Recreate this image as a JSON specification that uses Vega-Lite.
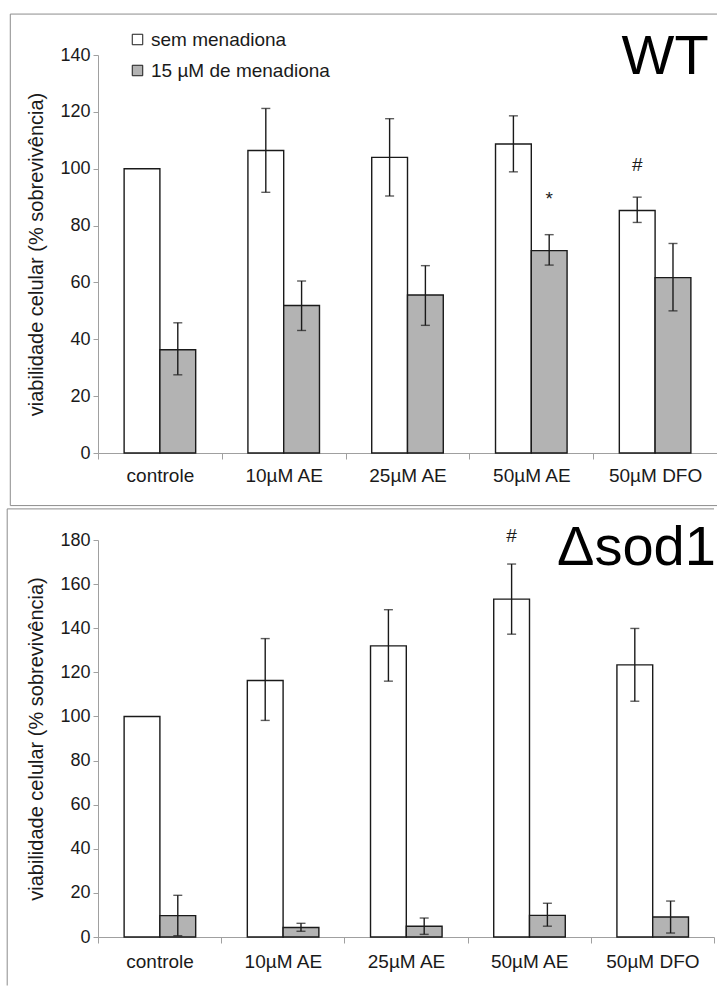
{
  "$schema": "https://vega.github.io/schema/vega-lite/v6.json",
  "padding": {"left": 6, "top": 13, "right": 0, "bottom": 0},
  "spacing": 1,
  "config": {"view": {"stroke": null}, "font": "Liberation Sans"},
  "datasets": {
    "wt": [
      {"cond": "controle", "serie": "sem menadiona", "v": 100, "lo": null, "hi": null},
      {"cond": "controle", "serie": "15 µM de menadiona", "v": 36.3, "lo": 27.5, "hi": 45.8},
      {"cond": "10µM AE", "serie": "sem menadiona", "v": 106.4, "lo": 91.7, "hi": 121.2},
      {"cond": "10µM AE", "serie": "15 µM de menadiona", "v": 51.9, "lo": 43.1, "hi": 60.5},
      {"cond": "25µM AE", "serie": "sem menadiona", "v": 104.0, "lo": 90.4, "hi": 117.6},
      {"cond": "25µM AE", "serie": "15 µM de menadiona", "v": 55.6, "lo": 44.9, "hi": 65.9},
      {"cond": "50µM AE", "serie": "sem menadiona", "v": 108.7, "lo": 98.9, "hi": 118.6},
      {"cond": "50µM AE", "serie": "15 µM de menadiona", "v": 71.2, "lo": 66.1, "hi": 76.8},
      {"cond": "50µM DFO", "serie": "sem menadiona", "v": 85.3, "lo": 81.1, "hi": 90.0},
      {"cond": "50µM DFO", "serie": "15 µM de menadiona", "v": 61.7, "lo": 50.0, "hi": 73.7}
    ],
    "wt_notes": [
      {"cond": "50µM AE", "serie": "15 µM de menadiona", "at": 89.5, "label": "*"},
      {"cond": "50µM DFO", "serie": "sem menadiona", "at": 101.2, "label": "#"}
    ],
    "sod": [
      {"cond": "controle", "serie": "sem menadiona", "v": 100, "lo": null, "hi": null},
      {"cond": "controle", "serie": "15 µM de menadiona", "v": 9.7, "lo": 0.6, "hi": 18.9},
      {"cond": "10µM AE", "serie": "sem menadiona", "v": 116.3, "lo": 98.2, "hi": 135.3},
      {"cond": "10µM AE", "serie": "15 µM de menadiona", "v": 4.3, "lo": 2.6, "hi": 6.2},
      {"cond": "25µM AE", "serie": "sem menadiona", "v": 132.0, "lo": 116.0, "hi": 148.4},
      {"cond": "25µM AE", "serie": "15 µM de menadiona", "v": 4.9, "lo": 1.2, "hi": 8.6},
      {"cond": "50µM AE", "serie": "sem menadiona", "v": 153.2, "lo": 137.3, "hi": 169.1},
      {"cond": "50µM AE", "serie": "15 µM de menadiona", "v": 9.8, "lo": 4.9, "hi": 15.3},
      {"cond": "50µM DFO", "serie": "sem menadiona", "v": 123.4, "lo": 106.9, "hi": 139.9},
      {"cond": "50µM DFO", "serie": "15 µM de menadiona", "v": 9.1, "lo": 1.8, "hi": 16.3}
    ],
    "sod_notes": [
      {"cond": "50µM AE", "serie": "sem menadiona", "at": 181.8, "label": "#"}
    ]
  },
  "vconcat": [
    {
      "width": 619,
      "height": 398,
      "resolve": {"scale": {"x": "independent"}},
      "layer": [
        {
          "layer": [
            {
              "data": {"name": "wt"},
              "mark": {"type": "bar", "stroke": "#1a1a1a", "strokeWidth": 1.4},
              "encoding": {
                "x": {"field": "cond", "type": "nominal", "title": null,
                  "scale": {"domain": ["controle", "10µM AE", "25µM AE", "50µM AE", "50µM DFO"], "paddingInner": 0, "paddingOuter": 0},
                  "axis": {"labelAngle": 0, "tickBand": "extent", "domainColor": "#a0a0a0", "tickColor": "#a0a0a0", "tickSize": 6, "labelFontSize": 19, "labelColor": "#1a1a1a", "labelPadding": 7}},
                "xOffset": {"field": "serie", "type": "nominal",
                  "scale": {"domain": ["sem menadiona", "15 µM de menadiona"], "paddingInner": 0, "paddingOuter": 0.73}},
                "y": {"field": "v", "type": "quantitative", "title": "viabilidade celular (% sobrevivência)",
                  "scale": {"domain": [0, 140], "nice": false},
                  "axis": {"values": [0, 20, 40, 60, 80, 100, 120, 140], "grid": false, "domainColor": "#a0a0a0", "tickColor": "#a0a0a0", "tickSize": 5, "labelFontSize": 18, "labelColor": "#1a1a1a", "labelPadding": 3, "titleFontSize": 20, "titleFontWeight": "normal", "titleColor": "#1a1a1a", "titlePadding": 13}},
                "fill": {"field": "serie", "type": "nominal",
                  "scale": {"domain": ["sem menadiona", "15 µM de menadiona"], "range": ["#ffffff", "#b3b3b3"]},
                  "legend": {"orient": "none", "legendX": 30, "legendY": -25, "title": null, "direction": "vertical", "symbolType": "square", "symbolSize": 110, "symbolStrokeColor": "#1a1a1a", "symbolStrokeWidth": 1, "labelFontSize": 19, "labelColor": "#1a1a1a", "labelLimit": 400, "rowPadding": 11, "labelOffset": 4}}
              }
            },
            {
              "data": {"name": "wt"},
              "transform": [{"filter": "datum.lo != null"}],
              "mark": {"type": "rule", "color": "#1a1a1a", "strokeWidth": 1.4},
              "encoding": {
                "x": {"field": "cond", "type": "nominal", "title": null},
                "xOffset": {"field": "serie", "type": "nominal"},
                "y": {"field": "lo", "type": "quantitative", "title": "viabilidade celular (% sobrevivência)"},
                "y2": {"field": "hi"}
              }
            },
            {
              "data": {"name": "wt"},
              "transform": [{"filter": "datum.lo != null"}],
              "mark": {"type": "tick", "color": "#1a1a1a", "thickness": 1.4, "size": 9},
              "encoding": {
                "x": {"field": "cond", "type": "nominal", "title": null},
                "xOffset": {"field": "serie", "type": "nominal"},
                "y": {"field": "lo", "type": "quantitative", "title": "viabilidade celular (% sobrevivência)"}
              }
            },
            {
              "data": {"name": "wt"},
              "transform": [{"filter": "datum.lo != null"}],
              "mark": {"type": "tick", "color": "#1a1a1a", "thickness": 1.4, "size": 9},
              "encoding": {
                "x": {"field": "cond", "type": "nominal", "title": null},
                "xOffset": {"field": "serie", "type": "nominal"},
                "y": {"field": "hi", "type": "quantitative", "title": "viabilidade celular (% sobrevivência)"}
              }
            },
            {
              "data": {"name": "wt_notes"},
              "mark": {"type": "text", "fontSize": 19, "color": "#1a1a1a", "baseline": "middle"},
              "encoding": {
                "x": {"field": "cond", "type": "nominal", "title": null},
                "xOffset": {"field": "serie", "type": "nominal"},
                "y": {"field": "at", "type": "quantitative", "title": "viabilidade celular (% sobrevivência)"},
                "text": {"field": "label"}
              }
            },
            {
              "data": {"values": [{}]},
              "mark": {"type": "text", "text": "WT", "fontSize": 56, "color": "#000000", "align": "center", "baseline": "alphabetic", "dx": 10},
              "encoding": {
                "x": {"datum": "50µM DFO", "type": "nominal"},
                "y": {"datum": 133.3, "type": "quantitative"}
              }
            }
          ]
        },
        {
          "data": {"values": [{}]},
          "layer": [
            {
              "mark": {"type": "rule", "color": "#8c8c8c", "strokeWidth": 1},
              "encoding": {
                "x": {"datum": -0.1417, "type": "quantitative", "scale": {"domain": [0, 1], "nice": false, "zero": false}, "axis": null},
                "x2": {"datum": 1},
                "y": {"datum": 154.4, "type": "quantitative"}
              }
            },
            {
              "mark": {"type": "rule", "color": "#8c8c8c", "strokeWidth": 1},
              "encoding": {
                "x": {"datum": -0.1417, "type": "quantitative"},
                "y": {"datum": -18.5, "type": "quantitative"},
                "y2": {"datum": 154.4}
              }
            },
            {
              "mark": {"type": "rule", "color": "#8c8c8c", "strokeWidth": 1},
              "encoding": {
                "x": {"datum": -0.1417, "type": "quantitative"},
                "x2": {"datum": 1},
                "y": {"datum": -18.5, "type": "quantitative"}
              }
            }
          ]
        }
      ]
    },
    {
      "width": 616,
      "height": 397,
      "resolve": {"scale": {"x": "independent"}},
      "layer": [
        {
          "layer": [
            {
              "data": {"name": "sod"},
              "mark": {"type": "bar", "stroke": "#1a1a1a", "strokeWidth": 1.4},
              "encoding": {
                "x": {"field": "cond", "type": "nominal", "title": null,
                  "scale": {"domain": ["controle", "10µM AE", "25µM AE", "50µM AE", "50µM DFO"], "paddingInner": 0, "paddingOuter": 0},
                  "axis": {"labelAngle": 0, "tickBand": "extent", "domainColor": "#a0a0a0", "tickColor": "#a0a0a0", "tickSize": 6, "labelFontSize": 19, "labelColor": "#1a1a1a", "labelPadding": 9}},
                "xOffset": {"field": "serie", "type": "nominal",
                  "scale": {"domain": ["sem menadiona", "15 µM de menadiona"], "paddingInner": 0, "paddingOuter": 0.73}},
                "y": {"field": "v", "type": "quantitative", "title": "viabilidade celular (% sobrevivência)",
                  "scale": {"domain": [0, 180], "nice": false},
                  "axis": {"values": [0, 20, 40, 60, 80, 100, 120, 140, 160, 180], "grid": false, "domainColor": "#a0a0a0", "tickColor": "#a0a0a0", "tickSize": 5, "labelFontSize": 18, "labelColor": "#1a1a1a", "labelPadding": 3, "titleFontSize": 20, "titleFontWeight": "normal", "titleColor": "#1a1a1a", "titlePadding": 13}},
                "fill": {"field": "serie", "type": "nominal",
                  "scale": {"domain": ["sem menadiona", "15 µM de menadiona"], "range": ["#ffffff", "#b3b3b3"]},
                  "legend": {"orient": "none", "legendX": 35, "legendY": -11, "title": null, "direction": "vertical", "symbolType": "square", "symbolSize": 110, "symbolStrokeColor": "#1a1a1a", "symbolStrokeWidth": 1, "labelFontSize": 19, "labelColor": "#1a1a1a", "labelLimit": 400, "rowPadding": 19, "labelOffset": 4}}
              }
            },
            {
              "data": {"name": "sod"},
              "transform": [{"filter": "datum.lo != null"}],
              "mark": {"type": "rule", "color": "#1a1a1a", "strokeWidth": 1.4},
              "encoding": {
                "x": {"field": "cond", "type": "nominal", "title": null},
                "xOffset": {"field": "serie", "type": "nominal"},
                "y": {"field": "lo", "type": "quantitative", "title": "viabilidade celular (% sobrevivência)"},
                "y2": {"field": "hi"}
              }
            },
            {
              "data": {"name": "sod"},
              "transform": [{"filter": "datum.lo != null"}],
              "mark": {"type": "tick", "color": "#1a1a1a", "thickness": 1.4, "size": 9},
              "encoding": {
                "x": {"field": "cond", "type": "nominal", "title": null},
                "xOffset": {"field": "serie", "type": "nominal"},
                "y": {"field": "lo", "type": "quantitative", "title": "viabilidade celular (% sobrevivência)"}
              }
            },
            {
              "data": {"name": "sod"},
              "transform": [{"filter": "datum.lo != null"}],
              "mark": {"type": "tick", "color": "#1a1a1a", "thickness": 1.4, "size": 9},
              "encoding": {
                "x": {"field": "cond", "type": "nominal", "title": null},
                "xOffset": {"field": "serie", "type": "nominal"},
                "y": {"field": "hi", "type": "quantitative", "title": "viabilidade celular (% sobrevivência)"}
              }
            },
            {
              "data": {"name": "sod_notes"},
              "mark": {"type": "text", "fontSize": 19, "color": "#1a1a1a", "baseline": "middle"},
              "encoding": {
                "x": {"field": "cond", "type": "nominal", "title": null},
                "xOffset": {"field": "serie", "type": "nominal"},
                "y": {"field": "at", "type": "quantitative", "title": "viabilidade celular (% sobrevivência)"},
                "text": {"field": "label"}
              }
            },
            {
              "data": {"values": [{}]},
              "mark": {"type": "text", "text": "Δsod1", "fontSize": 56, "color": "#000000", "align": "center", "baseline": "alphabetic", "dx": -16},
              "encoding": {
                "x": {"datum": "50µM DFO", "type": "nominal"},
                "y": {"datum": 168.6, "type": "quantitative"}
              }
            }
          ]
        },
        {
          "data": {"values": [{}]},
          "layer": [
            {
              "mark": {"type": "rule", "color": "#8c8c8c", "strokeWidth": 1},
              "encoding": {
                "x": {"datum": -0.1474, "type": "quantitative", "scale": {"domain": [0, 1], "nice": false, "zero": false}, "axis": null},
                "x2": {"datum": 1},
                "y": {"datum": 194.1, "type": "quantitative"}
              }
            },
            {
              "mark": {"type": "rule", "color": "#8c8c8c", "strokeWidth": 1},
              "encoding": {
                "x": {"datum": -0.1474, "type": "quantitative"},
                "y": {"datum": -22, "type": "quantitative"},
                "y2": {"datum": 194.1}
              }
            }
          ]
        }
      ]
    }
  ]
}
